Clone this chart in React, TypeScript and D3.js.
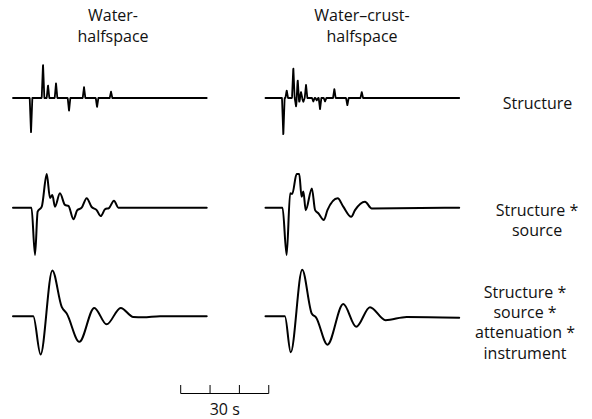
import React from "react";
import * as d3 from "d3";

// ---- Data (time in s, amplitude in relative units) ----
const columnTitles = [["Water-", "halfspace"], ["Water\u2013crust-", "halfspace"]];
const rowLabels = [["Structure"], ["Structure *", "source"], ["Structure *", "source *", "attenuation *", "instrument"]];

// Row 1: structure (spike series: time, amplitude)
const spikesWH: [number, number][] = [
  [6.14, -1.0], [10.23, 0.98], [11.93, 0.37], [14.66, 0.43], [19.09, -0.37],
  [24.2, 0.31], [28.64, -0.26], [33.4, 0.18],
];
const spikesWCH: [number, number][] = [
  [6.07, -1.08], [7.23, 0.22], [9.48, 0.88], [10.4, -0.24], [10.98, 0.52],
  [11.52, -0.11], [12.1, 0.17], [12.89, -0.11], [13.81, 0.38], [16.3, -0.1],
  [17.46, -0.07], [18.58, -0.33], [20.29, -0.1], [23.46, 0.26], [27.89, -0.21],
  [32.8, 0.17],
];

// Row 2: structure * source
const srcWH: [number, number][] = [
  [0, 0], [6.3, 0], [7.5, -1.35], [8.4, -0.11], [9.8, 0.03], [11.5, 0.96],
  [12.6, 0.28], [13.4, 0.36], [14.3, 0.03], [16.0, 0.41], [17.7, 0.08],
  [18.9, 0.05], [20.6, -0.33], [21.9, -0.07], [23.4, 0], [25.1, 0.27],
  [26.8, 0.02], [28.5, -0.07], [29.9, -0.24], [31.4, -0.04], [32.7, -0.01],
  [34.4, 0.2], [35.9, 0], [66, 0],
];
const srcWCH: [number, number][] = [
  [0, 0], [5.8, 0], [7.2, -1.35], [8.4, 0.41], [9.1, 0.39], [10.6, 0.96],
  [11.5, 0.96], [12.3, 0.31], [12.9, 0.46], [13.7, -0.07], [15.8, 0.55],
  [16.9, -0.07], [18.0, -0.16], [19.9, -0.35], [21.1, -0.07], [24.6, 0.27],
  [26.5, 0.03], [29.2, -0.26], [30.5, -0.07], [33.9, 0.17], [36.2, -0.02],
  [66, 0],
];

// Row 3: structure * source * attenuation * instrument
const fullWH: [number, number][] = [
  [0, 0], [6.9, 0], [9.4, -1.09], [13.4, 1.31], [16.6, 0.27], [18.3, 0.08],
  [22.6, -0.73], [27.7, 0.24], [31.9, -0.23], [36.7, 0.24], [41.0, -0.02],
  [44.3, -0.03], [50.1, 0], [66, 0],
];
const fullWCH: [number, number][] = [
  [0, 0], [6.6, 0], [8.6, -1.03], [12.5, 1.33], [15.8, 0.07], [17.2, -0.03],
  [21.1, -0.81], [26.5, 0.35], [30.9, -0.3], [35.6, 0.26], [40.9, -0.11],
  [48.1, -0.02], [66, -0.04],
];

const scaleTicks = [0, 10, 20, 30];
const scaleLabel = "30 s";

// ---- Layout ----
const W = 592, H = 419;
const pxPerSec = 2.935;
const colX0 = [13, 265.5];
const rowY = [98, 207.7, 316.3];
const ampPx = 35;
const traceLen = 66;
const font = "'Open Sans', 'Noto Sans', sans-serif";

function spikeSeries(spikes: [number, number][]): [number, number][] {
  const w = 0.45;
  return d3.range(0, traceLen + 0.001, 0.05).map((t) => {
    let v = 0;
    for (const [ti, a] of spikes) v += a * Math.max(0, 1 - Math.abs(t - ti) / w);
    return [t, v] as [number, number];
  });
}

export default function App() {
  const series = [
    [spikeSeries(spikesWH), spikeSeries(spikesWCH)],
    [srcWH, srcWCH],
    [fullWH, fullWCH],
  ];
  const curves = [d3.curveLinear, d3.curveMonotoneX, d3.curveMonotoneX];

  const y = d3.scaleLinear().domain([-1, 1]).range([ampPx, -ampPx]);
  const sb = d3.scaleLinear().domain([0, 30]).range([180.7, 180.7 + 30 * pxPerSec]);

  const rowLabelCx = [537.5, 537, 525];
  const rowLabelBase = [109, 216, 298];

  return (
    <svg width={W} height={H} style={{ position: "absolute", left: 0, top: 0, background: "#fff" }}>
      {columnTitles.map((lines, ci) => (
        <text key={ci} x={[113, 362][ci]} y={21} textAnchor="middle" fontFamily={font} fontSize={16} fill="#111">
          {lines.map((l, li) => (
            <tspan key={li} x={[113, 362][ci]} dy={li === 0 ? 0 : 20.5}>{l}</tspan>
          ))}
        </text>
      ))}
      {series.map((row, ri) =>
        row.map((data, ci) => {
          const x = d3.scaleLinear().domain([0, traceLen]).range([colX0[ci], colX0[ci] + traceLen * pxPerSec]);
          const line = d3.line<[number, number]>()
            .x((d) => x(d[0]))
            .y((d) => rowY[ri] + y(d[1]))
            .curve(curves[ri]);
          return (
            <path key={ri + "-" + ci} d={line(data) || ""} fill="none" stroke="#000"
              strokeWidth={ri === 0 ? 1.8 : 2} strokeLinejoin="round" strokeLinecap="round" />
          );
        })
      )}
      {rowLabels.map((lines, ri) => (
        <text key={ri} textAnchor="middle" fontFamily={font} fontSize={16} fill="#111">
          {lines.map((l, li) => (
            <tspan key={li} x={rowLabelCx[ri]} y={rowLabelBase[ri] + li * 20.2}>{l}</tspan>
          ))}
        </text>
      ))}
      <g>
        <line x1={sb(0)} x2={sb(30)} y1={393.5} y2={393.5} stroke="#000" strokeWidth={1} />
        {scaleTicks.map((t) => (
          <line key={t} x1={sb(t)} x2={sb(t)} y1={385} y2={393.5} stroke="#000" strokeWidth={1} />
        ))}
        <text x={sb(15)} y={415} textAnchor="middle" fontFamily={font} fontSize={16} fill="#111">{scaleLabel}</text>
      </g>
    </svg>
  );
}
